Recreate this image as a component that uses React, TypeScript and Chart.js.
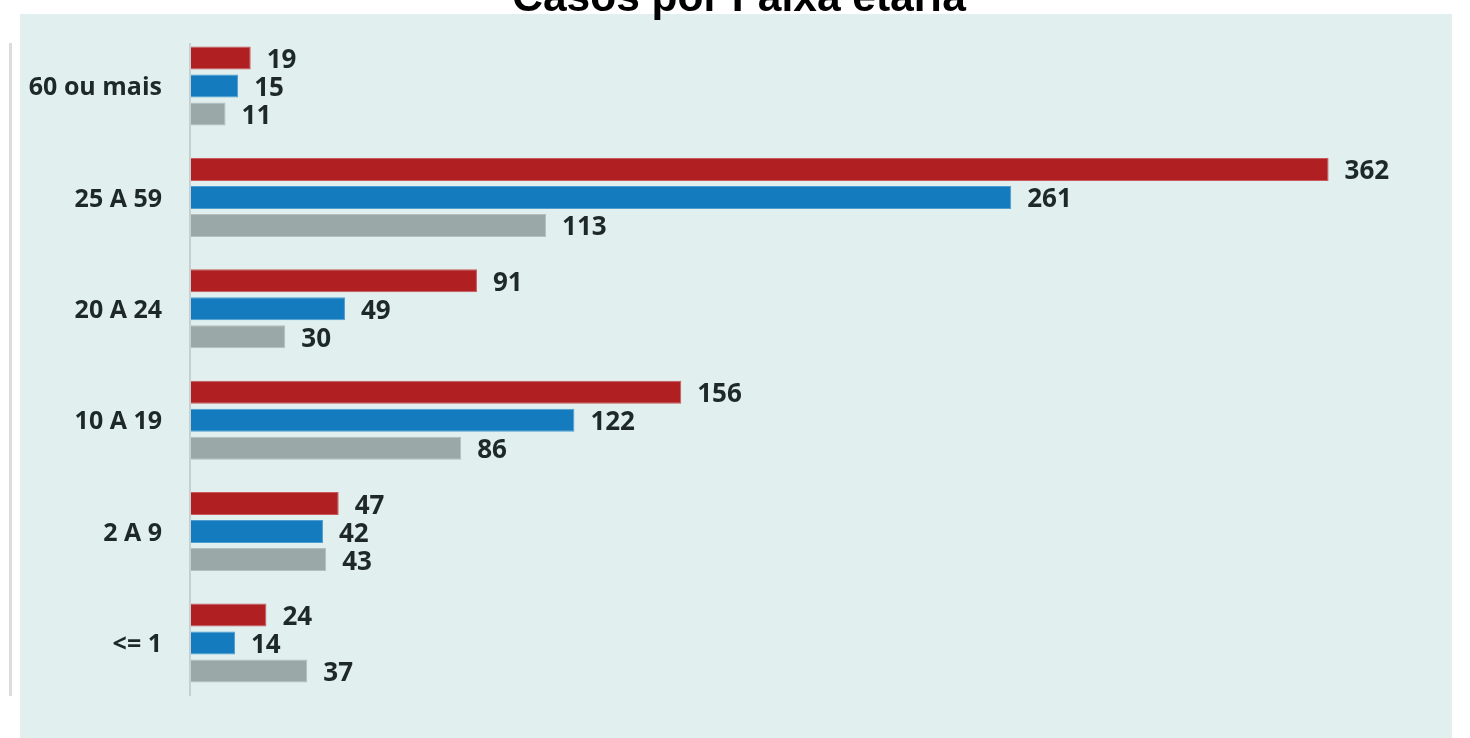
import React, { useEffect, useRef } from "react";
import { Chart, registerables } from "chart.js";

Chart.register(...registerables);

const TITLE = "Casos por Faixa etária";
const categories = ["60 ou mais", "25 A 59", "20 A 24", "10 A 19", "2 A 9", "<= 1"];
const seriesRed = [19, 362, 91, 156, 47, 24];
const seriesBlue = [15, 261, 49, 122, 42, 14];
const seriesGray = [11, 113, 30, 86, 43, 37];

const RED = "#b01f22";
const BLUE = "#137bbe";
const GRAY = "#9aa8a7";
const PANEL = "#e1efef";
const TEXT = "#1e2828";

const decorPlugin = {
  id: "decor",
  beforeDraw(chart: any) {
    const ctx = chart.ctx;
    ctx.save();
    ctx.fillStyle = "#ffffff";
    ctx.fillRect(0, 0, chart.width, chart.height);
    ctx.fillStyle = PANEL;
    ctx.fillRect(20, 14, 1432, chart.height - 14);
    // left thin border line
    ctx.fillStyle = "#dcdcdc";
    ctx.fillRect(9, 43, 3, 653);
    // title (partly cut off at the top)
    ctx.fillStyle = "#000000";
    ctx.font = "bold 42.5px 'Liberation Sans', Arial, sans-serif";
    ctx.textAlign = "center";
    ctx.textBaseline = "alphabetic";
    ctx.fillText(TITLE, 739, 11);
    // axis line
    const left = chart.chartArea.left;
    ctx.fillStyle = "#c6d0d0";
    ctx.fillRect(left - 2, 43, 2, 653);
    ctx.restore();
  },
  afterDatasetsDraw(chart: any) {
    const ctx = chart.ctx;
    ctx.save();
    ctx.fillStyle = TEXT;
    ctx.font = "bold 26px 'Open Sans', sans-serif";
    ctx.textAlign = "left";
    ctx.textBaseline = "middle";
    chart.data.datasets.forEach((ds: any, i: number) => {
      const meta = chart.getDatasetMeta(i);
      meta.data.forEach((el: any, j: number) => {
        ctx.fillText(String(ds.data[j]), el.x + 16, el.y + 2.5);
      });
    });
    ctx.restore();
  },
};

export default function App() {
  const ref = useRef<HTMLCanvasElement>(null);
  useEffect(() => {
    if (!ref.current) return;
    const common = {
      categoryPercentage: 0.754,
      barPercentage: 0.82,
      borderWidth: 1,
    };
    const chart = new Chart(ref.current, {
      type: "bar",
      data: {
        labels: categories,
        datasets: [
          { label: "A", data: seriesRed, backgroundColor: RED, borderColor: "#c85a5c", ...common },
          { label: "B", data: seriesBlue, backgroundColor: BLUE, borderColor: "#4f9ed2", ...common },
          { label: "C", data: seriesGray, backgroundColor: GRAY, borderColor: "#b4c0bf", ...common },
        ],
      },
      options: {
        indexAxis: "y",
        responsive: false,
        animation: false,
        layout: { padding: { left: 0, right: 22, top: 30.3, bottom: 39.3 } },
        plugins: {
          legend: { display: false },
          title: { display: false },
          tooltip: { enabled: false },
        },
        scales: {
          x: {
            display: false,
            min: 0,
            max: 400,
            grid: { display: false },
          },
          y: {
            grid: {
              display: true,
              drawOnChartArea: false,
              drawTicks: true,
              tickLength: 29,
              color: "rgba(0,0,0,0)",
            },
            border: { display: false },
            ticks: {
              padding: 0,
              labelOffset: 2,
              color: TEXT,
              font: { family: "'Open Sans', sans-serif", size: 25, weight: "bold" },
            },
            afterFit(scale: any) {
              scale.width = 191;
            },
          },
        },
      },
      plugins: [decorPlugin],
    } as any);
    return () => chart.destroy();
  }, []);
  return (
    <div style={{ position: "fixed", left: 0, top: 0, width: 1470, height: 738 }}>
      <canvas ref={ref} width={1470} height={738} style={{ display: "block" }} />
    </div>
  );
}
